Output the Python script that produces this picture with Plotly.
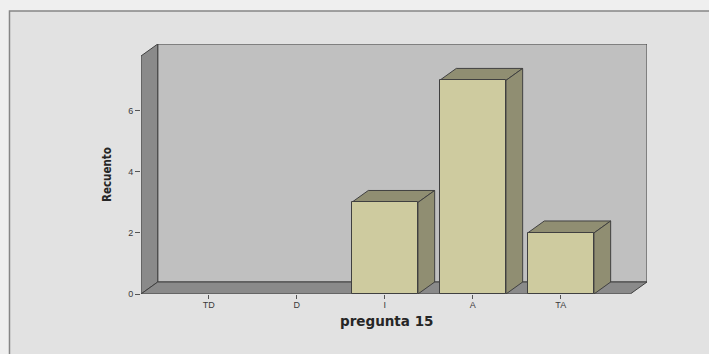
import plotly.graph_objects as go

# Frequency table for "pregunta 15"
categories = ["TD", "D", "I", "A", "TA"]
counts = [0, 0, 3, 7, 2]
y_ticks = [0, 2, 4, 6]

# Frame / depth settings (axis units)
Y_TOP = 7.8          # height of the front frame
X_LO, X_HI = -0.77, 4.79
DX, DY = 0.19, 0.393  # depth offset of the 3D box
BAR_W = 0.754

WALL = "#c0c0c0"
SIDE = "#8a8a8a"
EDGE = "#404040"
BAR_FRONT = "#cecb9f"
BAR_DARK = "#908e72"

xs = list(range(len(categories)))

fig = go.Figure()
fig.add_trace(go.Bar(
    x=xs, y=counts, width=BAR_W,
    marker=dict(color=BAR_FRONT,
                line=dict(color=EDGE, width=[1 if v > 0 else 0 for v in counts])),
    hoverinfo="skip",
))

shapes = []


def poly(pts, fill, layer="below", width=1):
    d = "M " + " L ".join(f"{x},{y}" for x, y in pts) + " Z"
    shapes.append(dict(type="path", path=d, xref="x", yref="y",
                       fillcolor=fill, line=dict(color=EDGE, width=width),
                       layer=layer))


# panel background with border
shapes.append(dict(type="rect", xref="paper", yref="paper",
                   x0=-0.2599, x1=1.2, y0=-0.3, y1=1.132,
                   fillcolor="#e2e2e2", line=dict(color="#868686", width=1.5),
                   layer="below"))

# back wall
poly([(X_LO + DX, DY), (X_HI + DX, DY), (X_HI + DX, Y_TOP + DY), (X_LO + DX, Y_TOP + DY)], WALL)
# left wall
poly([(X_LO, 0), (X_LO, Y_TOP), (X_LO + DX, Y_TOP + DY), (X_LO + DX, DY)], SIDE)
# floor
poly([(X_LO, 0), (X_HI, 0), (X_HI + DX, DY), (X_LO + DX, DY)], SIDE)

# top and side faces of every non-empty bar
for x, v in zip(xs, counts):
    if v <= 0:
        continue
    l, r = x - BAR_W / 2, x + BAR_W / 2
    poly([(l, v), (l + DX, v + DY), (r + DX, v + DY), (r, v)], BAR_DARK)
    poly([(r, 0), (r, v), (r + DX, v + DY), (r + DX, DY)], BAR_DARK)

fig.update_layout(
    width=709, height=354,
    margin=dict(l=141, r=62, t=44, b=60),
    paper_bgcolor="#efefef",
    plot_bgcolor="rgba(0,0,0,0)",
    showlegend=False,
    bargap=0,
    shapes=shapes,
    xaxis=dict(
        range=[X_LO, X_HI + DX], tickvals=xs, ticktext=categories,
        showgrid=False, zeroline=False, showline=False,
        ticks="outside", ticklen=4, tickcolor="#555", tickwidth=1,
        ticklabelstandoff=-2,
        tickfont=dict(family="Liberation Sans, Arial", size=9, color="#3a3a3a"),
        fixedrange=True,
    ),
    yaxis=dict(
        range=[0, Y_TOP + DY], tickvals=y_ticks,
        showgrid=False, zeroline=False, showline=False,
        ticks="outside", ticklen=5, tickcolor="#555", tickwidth=1,
        tickfont=dict(family="Liberation Sans, Arial", size=9, color="#3a3a3a"),
        fixedrange=True,
    ),
    annotations=[
        dict(text="<b>pregunta 15</b>", xref="paper", yref="paper",
             x=(386 - 141) / 506, y=(294 - 321) / 250, showarrow=False,
             xanchor="center", yanchor="middle",
             font=dict(family="DejaVu Sans", size=13.5, color="#262626")),
        dict(text="<b>Recuento</b>", xref="paper", yref="paper",
             x=(107 - 141) / 506, y=(294 - 175) / 250, showarrow=False,
             textangle=-90, xanchor="center", yanchor="middle",
             font=dict(family="DejaVu Sans Condensed, Liberation Sans",
                       size=11.5, color="#262626")),
    ],
)

fig.write_html("out.html")
